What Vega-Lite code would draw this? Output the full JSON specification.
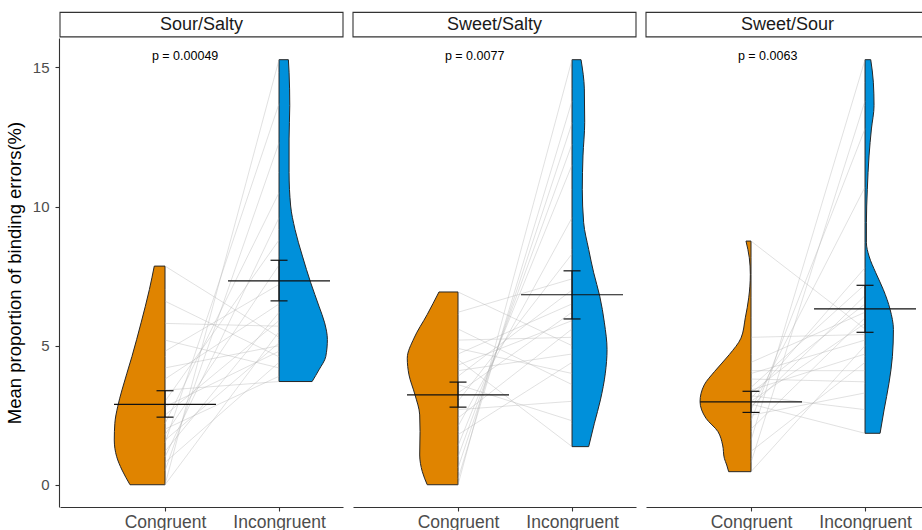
{
  "$schema": "https://vega.github.io/schema/vega-lite/v6.json",
  "padding": {"left": 5, "top": 11, "right": 0, "bottom": 0},
  "background": "white",
  "config": {
    "font": "Liberation Sans",
    "view": {"stroke": null},
    "axis": {"grid": false, "domainColor": "#333333", "domainWidth": 1.1, "tickColor": "#333333", "tickWidth": 1.1, "tickSize": 4, "labelColor": "#4d4d4d", "titleColor": "#000000", "titleFontWeight": "normal"}
  },
  "data": {"values": [
    {"kind": "strip", "pair": "Sour/Salty", "label": "p = 0.00049"},
    {"kind": "strip", "pair": "Sweet/Salty", "label": "p = 0.0077"},
    {"kind": "strip", "pair": "Sweet/Sour", "label": "p = 0.0063"},

    {"kind": "violin", "pair": "Sour/Salty", "cond": "Congruent", "value": 0, "half": 0.307},
    {"kind": "violin", "pair": "Sour/Salty", "cond": "Congruent", "value": 0.53, "half": 0.377},
    {"kind": "violin", "pair": "Sour/Salty", "cond": "Congruent", "value": 1.01, "half": 0.424},
    {"kind": "violin", "pair": "Sour/Salty", "cond": "Congruent", "value": 1.61, "half": 0.445},
    {"kind": "violin", "pair": "Sour/Salty", "cond": "Congruent", "value": 2.21, "half": 0.44},
    {"kind": "violin", "pair": "Sour/Salty", "cond": "Congruent", "value": 2.81, "half": 0.415},
    {"kind": "violin", "pair": "Sour/Salty", "cond": "Congruent", "value": 3.41, "half": 0.377},
    {"kind": "violin", "pair": "Sour/Salty", "cond": "Congruent", "value": 4.61, "half": 0.29},
    {"kind": "violin", "pair": "Sour/Salty", "cond": "Congruent", "value": 5.82, "half": 0.21},
    {"kind": "violin", "pair": "Sour/Salty", "cond": "Congruent", "value": 7.02, "half": 0.137},
    {"kind": "violin", "pair": "Sour/Salty", "cond": "Congruent", "value": 7.86, "half": 0.094},

    {"kind": "violin", "pair": "Sour/Salty", "cond": "Incongruent", "value": 3.71, "half": 0.29},
    {"kind": "violin", "pair": "Sour/Salty", "cond": "Incongruent", "value": 4.13, "half": 0.35},
    {"kind": "violin", "pair": "Sour/Salty", "cond": "Incongruent", "value": 4.61, "half": 0.41},
    {"kind": "violin", "pair": "Sour/Salty", "cond": "Incongruent", "value": 5.22, "half": 0.424},
    {"kind": "violin", "pair": "Sour/Salty", "cond": "Incongruent", "value": 5.82, "half": 0.40},
    {"kind": "violin", "pair": "Sour/Salty", "cond": "Incongruent", "value": 6.42, "half": 0.35},
    {"kind": "violin", "pair": "Sour/Salty", "cond": "Incongruent", "value": 7.26, "half": 0.278},
    {"kind": "violin", "pair": "Sour/Salty", "cond": "Incongruent", "value": 8.22, "half": 0.205},
    {"kind": "violin", "pair": "Sour/Salty", "cond": "Incongruent", "value": 9.18, "half": 0.14},
    {"kind": "violin", "pair": "Sour/Salty", "cond": "Incongruent", "value": 10.02, "half": 0.102},
    {"kind": "violin", "pair": "Sour/Salty", "cond": "Incongruent", "value": 11.22, "half": 0.088},
    {"kind": "violin", "pair": "Sour/Salty", "cond": "Incongruent", "value": 12.43, "half": 0.088},
    {"kind": "violin", "pair": "Sour/Salty", "cond": "Incongruent", "value": 13.63, "half": 0.094},
    {"kind": "violin", "pair": "Sour/Salty", "cond": "Incongruent", "value": 14.83, "half": 0.088},
    {"kind": "violin", "pair": "Sour/Salty", "cond": "Incongruent", "value": 15.28, "half": 0.082},

    {"kind": "violin", "pair": "Sweet/Salty", "cond": "Congruent", "value": 0, "half": 0.27},
    {"kind": "violin", "pair": "Sweet/Salty", "cond": "Congruent", "value": 0.47, "half": 0.313},
    {"kind": "violin", "pair": "Sweet/Salty", "cond": "Congruent", "value": 1.07, "half": 0.336},
    {"kind": "violin", "pair": "Sweet/Salty", "cond": "Congruent", "value": 1.91, "half": 0.333},
    {"kind": "violin", "pair": "Sweet/Salty", "cond": "Congruent", "value": 2.51, "half": 0.336},
    {"kind": "violin", "pair": "Sweet/Salty", "cond": "Congruent", "value": 3.23, "half": 0.377},
    {"kind": "violin", "pair": "Sweet/Salty", "cond": "Congruent", "value": 3.95, "half": 0.43},
    {"kind": "violin", "pair": "Sweet/Salty", "cond": "Congruent", "value": 4.55, "half": 0.445},
    {"kind": "violin", "pair": "Sweet/Salty", "cond": "Congruent", "value": 5.27, "half": 0.386},
    {"kind": "violin", "pair": "Sweet/Salty", "cond": "Congruent", "value": 6.12, "half": 0.27},
    {"kind": "violin", "pair": "Sweet/Salty", "cond": "Congruent", "value": 6.93, "half": 0.167},

    {"kind": "violin", "pair": "Sweet/Salty", "cond": "Incongruent", "value": 1.37, "half": 0.146},
    {"kind": "violin", "pair": "Sweet/Salty", "cond": "Incongruent", "value": 2.21, "half": 0.196},
    {"kind": "violin", "pair": "Sweet/Salty", "cond": "Incongruent", "value": 3.05, "half": 0.249},
    {"kind": "violin", "pair": "Sweet/Salty", "cond": "Incongruent", "value": 4.01, "half": 0.292},
    {"kind": "violin", "pair": "Sweet/Salty", "cond": "Incongruent", "value": 4.86, "half": 0.307},
    {"kind": "violin", "pair": "Sweet/Salty", "cond": "Incongruent", "value": 5.82, "half": 0.284},
    {"kind": "violin", "pair": "Sweet/Salty", "cond": "Incongruent", "value": 6.78, "half": 0.243},
    {"kind": "violin", "pair": "Sweet/Salty", "cond": "Incongruent", "value": 7.62, "half": 0.19},
    {"kind": "violin", "pair": "Sweet/Salty", "cond": "Incongruent", "value": 8.46, "half": 0.146},
    {"kind": "violin", "pair": "Sweet/Salty", "cond": "Incongruent", "value": 9.42, "half": 0.102},
    {"kind": "violin", "pair": "Sweet/Salty", "cond": "Incongruent", "value": 10.62, "half": 0.09},
    {"kind": "violin", "pair": "Sweet/Salty", "cond": "Incongruent", "value": 11.82, "half": 0.096},
    {"kind": "violin", "pair": "Sweet/Salty", "cond": "Incongruent", "value": 13.03, "half": 0.111},
    {"kind": "violin", "pair": "Sweet/Salty", "cond": "Incongruent", "value": 14.23, "half": 0.108},
    {"kind": "violin", "pair": "Sweet/Salty", "cond": "Incongruent", "value": 15.28, "half": 0.079},

    {"kind": "violin", "pair": "Sweet/Sour", "cond": "Congruent", "value": 0.47, "half": 0.196},
    {"kind": "violin", "pair": "Sweet/Sour", "cond": "Congruent", "value": 0.71, "half": 0.213},
    {"kind": "violin", "pair": "Sweet/Sour", "cond": "Congruent", "value": 0.95, "half": 0.234},
    {"kind": "violin", "pair": "Sweet/Sour", "cond": "Congruent", "value": 1.43, "half": 0.249},
    {"kind": "violin", "pair": "Sweet/Sour", "cond": "Congruent", "value": 1.91, "half": 0.29},
    {"kind": "violin", "pair": "Sweet/Sour", "cond": "Congruent", "value": 2.39, "half": 0.395},
    {"kind": "violin", "pair": "Sweet/Sour", "cond": "Congruent", "value": 2.99, "half": 0.447},
    {"kind": "violin", "pair": "Sweet/Sour", "cond": "Congruent", "value": 3.59, "half": 0.41},
    {"kind": "violin", "pair": "Sweet/Sour", "cond": "Congruent", "value": 4.07, "half": 0.32},
    {"kind": "violin", "pair": "Sweet/Sour", "cond": "Congruent", "value": 4.68, "half": 0.19},
    {"kind": "violin", "pair": "Sweet/Sour", "cond": "Congruent", "value": 5.27, "half": 0.088},
    {"kind": "violin", "pair": "Sweet/Sour", "cond": "Congruent", "value": 6.0, "half": 0.05},
    {"kind": "violin", "pair": "Sweet/Sour", "cond": "Congruent", "value": 6.72, "half": 0.02},
    {"kind": "violin", "pair": "Sweet/Sour", "cond": "Congruent", "value": 7.56, "half": 0.006},
    {"kind": "violin", "pair": "Sweet/Sour", "cond": "Congruent", "value": 8.16, "half": 0.015},
    {"kind": "violin", "pair": "Sweet/Sour", "cond": "Congruent", "value": 8.76, "half": 0.044},

    {"kind": "violin", "pair": "Sweet/Sour", "cond": "Incongruent", "value": 1.85, "half": 0.132},
    {"kind": "violin", "pair": "Sweet/Sour", "cond": "Incongruent", "value": 2.69, "half": 0.167},
    {"kind": "violin", "pair": "Sweet/Sour", "cond": "Incongruent", "value": 3.65, "half": 0.21},
    {"kind": "violin", "pair": "Sweet/Sour", "cond": "Incongruent", "value": 4.61, "half": 0.24},
    {"kind": "violin", "pair": "Sweet/Sour", "cond": "Incongruent", "value": 5.58, "half": 0.249},
    {"kind": "violin", "pair": "Sweet/Sour", "cond": "Incongruent", "value": 6.3, "half": 0.22},
    {"kind": "violin", "pair": "Sweet/Sour", "cond": "Incongruent", "value": 7.02, "half": 0.16},
    {"kind": "violin", "pair": "Sweet/Sour", "cond": "Incongruent", "value": 7.62, "half": 0.094},
    {"kind": "violin", "pair": "Sweet/Sour", "cond": "Incongruent", "value": 8.22, "half": 0.035},
    {"kind": "violin", "pair": "Sweet/Sour", "cond": "Incongruent", "value": 8.7, "half": 0.012},
    {"kind": "violin", "pair": "Sweet/Sour", "cond": "Incongruent", "value": 9.42, "half": 0.012},
    {"kind": "violin", "pair": "Sweet/Sour", "cond": "Incongruent", "value": 10.62, "half": 0.02},
    {"kind": "violin", "pair": "Sweet/Sour", "cond": "Incongruent", "value": 11.82, "half": 0.035},
    {"kind": "violin", "pair": "Sweet/Sour", "cond": "Incongruent", "value": 12.79, "half": 0.056},
    {"kind": "violin", "pair": "Sweet/Sour", "cond": "Incongruent", "value": 13.63, "half": 0.079},
    {"kind": "violin", "pair": "Sweet/Sour", "cond": "Incongruent", "value": 14.47, "half": 0.073},
    {"kind": "violin", "pair": "Sweet/Sour", "cond": "Incongruent", "value": 15.28, "half": 0.05},

    {"kind": "summary", "pair": "Sour/Salty", "cond": "Congruent", "mean": 2.89, "lower": 2.43, "upper": 3.38},
    {"kind": "summary", "pair": "Sour/Salty", "cond": "Incongruent", "mean": 7.33, "lower": 6.61, "upper": 8.07},
    {"kind": "summary", "pair": "Sweet/Salty", "cond": "Congruent", "mean": 3.23, "lower": 2.79, "upper": 3.69},
    {"kind": "summary", "pair": "Sweet/Salty", "cond": "Incongruent", "mean": 6.83, "lower": 5.96, "upper": 7.69},
    {"kind": "summary", "pair": "Sweet/Sour", "cond": "Congruent", "mean": 2.98, "lower": 2.60, "upper": 3.36},
    {"kind": "summary", "pair": "Sweet/Sour", "cond": "Incongruent", "mean": 6.32, "lower": 5.48, "upper": 7.17},

    {"kind": "line", "pair": "Sour/Salty", "subject": "a01", "cond": "Congruent", "value": 0},
    {"kind": "line", "pair": "Sour/Salty", "subject": "a01", "cond": "Incongruent", "value": 15.28},
    {"kind": "line", "pair": "Sour/Salty", "subject": "a02", "cond": "Congruent", "value": 0},
    {"kind": "line", "pair": "Sour/Salty", "subject": "a02", "cond": "Incongruent", "value": 5.5},
    {"kind": "line", "pair": "Sour/Salty", "subject": "a03", "cond": "Congruent", "value": 0.5},
    {"kind": "line", "pair": "Sour/Salty", "subject": "a03", "cond": "Incongruent", "value": 12.3},
    {"kind": "line", "pair": "Sour/Salty", "subject": "a04", "cond": "Congruent", "value": 0.8},
    {"kind": "line", "pair": "Sour/Salty", "subject": "a04", "cond": "Incongruent", "value": 4.4},
    {"kind": "line", "pair": "Sour/Salty", "subject": "a05", "cond": "Congruent", "value": 1.0},
    {"kind": "line", "pair": "Sour/Salty", "subject": "a05", "cond": "Incongruent", "value": 9.6},
    {"kind": "line", "pair": "Sour/Salty", "subject": "a06", "cond": "Congruent", "value": 1.2},
    {"kind": "line", "pair": "Sour/Salty", "subject": "a06", "cond": "Incongruent", "value": 6.2},
    {"kind": "line", "pair": "Sour/Salty", "subject": "a07", "cond": "Congruent", "value": 1.5},
    {"kind": "line", "pair": "Sour/Salty", "subject": "a07", "cond": "Incongruent", "value": 13.7},
    {"kind": "line", "pair": "Sour/Salty", "subject": "a08", "cond": "Congruent", "value": 1.6},
    {"kind": "line", "pair": "Sour/Salty", "subject": "a08", "cond": "Incongruent", "value": 5.1},
    {"kind": "line", "pair": "Sour/Salty", "subject": "a09", "cond": "Congruent", "value": 1.8},
    {"kind": "line", "pair": "Sour/Salty", "subject": "a09", "cond": "Incongruent", "value": 7.9},
    {"kind": "line", "pair": "Sour/Salty", "subject": "a10", "cond": "Congruent", "value": 2.0},
    {"kind": "line", "pair": "Sour/Salty", "subject": "a10", "cond": "Incongruent", "value": 3.9},
    {"kind": "line", "pair": "Sour/Salty", "subject": "a11", "cond": "Congruent", "value": 2.2},
    {"kind": "line", "pair": "Sour/Salty", "subject": "a11", "cond": "Incongruent", "value": 10.5},
    {"kind": "line", "pair": "Sour/Salty", "subject": "a12", "cond": "Congruent", "value": 2.5},
    {"kind": "line", "pair": "Sour/Salty", "subject": "a12", "cond": "Incongruent", "value": 5.9},
    {"kind": "line", "pair": "Sour/Salty", "subject": "a13", "cond": "Congruent", "value": 2.8},
    {"kind": "line", "pair": "Sour/Salty", "subject": "a13", "cond": "Incongruent", "value": 4.8},
    {"kind": "line", "pair": "Sour/Salty", "subject": "a14", "cond": "Congruent", "value": 3.0},
    {"kind": "line", "pair": "Sour/Salty", "subject": "a14", "cond": "Incongruent", "value": 8.8},
    {"kind": "line", "pair": "Sour/Salty", "subject": "a15", "cond": "Congruent", "value": 3.4},
    {"kind": "line", "pair": "Sour/Salty", "subject": "a15", "cond": "Incongruent", "value": 3.71},
    {"kind": "line", "pair": "Sour/Salty", "subject": "a16", "cond": "Congruent", "value": 3.8},
    {"kind": "line", "pair": "Sour/Salty", "subject": "a16", "cond": "Incongruent", "value": 6.5},
    {"kind": "line", "pair": "Sour/Salty", "subject": "a17", "cond": "Congruent", "value": 4.2},
    {"kind": "line", "pair": "Sour/Salty", "subject": "a17", "cond": "Incongruent", "value": 5.0},
    {"kind": "line", "pair": "Sour/Salty", "subject": "a18", "cond": "Congruent", "value": 4.8},
    {"kind": "line", "pair": "Sour/Salty", "subject": "a18", "cond": "Incongruent", "value": 7.2},
    {"kind": "line", "pair": "Sour/Salty", "subject": "a19", "cond": "Congruent", "value": 5.2},
    {"kind": "line", "pair": "Sour/Salty", "subject": "a19", "cond": "Incongruent", "value": 4.2},
    {"kind": "line", "pair": "Sour/Salty", "subject": "a20", "cond": "Congruent", "value": 5.8},
    {"kind": "line", "pair": "Sour/Salty", "subject": "a20", "cond": "Incongruent", "value": 5.7},
    {"kind": "line", "pair": "Sour/Salty", "subject": "a21", "cond": "Congruent", "value": 6.6},
    {"kind": "line", "pair": "Sour/Salty", "subject": "a21", "cond": "Incongruent", "value": 4.6},
    {"kind": "line", "pair": "Sour/Salty", "subject": "a22", "cond": "Congruent", "value": 7.86},
    {"kind": "line", "pair": "Sour/Salty", "subject": "a22", "cond": "Incongruent", "value": 5.3},

    {"kind": "line", "pair": "Sweet/Salty", "subject": "b01", "cond": "Congruent", "value": 0},
    {"kind": "line", "pair": "Sweet/Salty", "subject": "b01", "cond": "Incongruent", "value": 15.28},
    {"kind": "line", "pair": "Sweet/Salty", "subject": "b02", "cond": "Congruent", "value": 0.2},
    {"kind": "line", "pair": "Sweet/Salty", "subject": "b02", "cond": "Incongruent", "value": 13.8},
    {"kind": "line", "pair": "Sweet/Salty", "subject": "b03", "cond": "Congruent", "value": 0.6},
    {"kind": "line", "pair": "Sweet/Salty", "subject": "b03", "cond": "Incongruent", "value": 13.0},
    {"kind": "line", "pair": "Sweet/Salty", "subject": "b04", "cond": "Congruent", "value": 1.0},
    {"kind": "line", "pair": "Sweet/Salty", "subject": "b04", "cond": "Incongruent", "value": 12.25},
    {"kind": "line", "pair": "Sweet/Salty", "subject": "b05", "cond": "Congruent", "value": 1.4},
    {"kind": "line", "pair": "Sweet/Salty", "subject": "b05", "cond": "Incongruent", "value": 11.5},
    {"kind": "line", "pair": "Sweet/Salty", "subject": "b06", "cond": "Congruent", "value": 1.8},
    {"kind": "line", "pair": "Sweet/Salty", "subject": "b06", "cond": "Incongruent", "value": 4.4},
    {"kind": "line", "pair": "Sweet/Salty", "subject": "b07", "cond": "Congruent", "value": 2.1},
    {"kind": "line", "pair": "Sweet/Salty", "subject": "b07", "cond": "Incongruent", "value": 9.6},
    {"kind": "line", "pair": "Sweet/Salty", "subject": "b08", "cond": "Congruent", "value": 2.4},
    {"kind": "line", "pair": "Sweet/Salty", "subject": "b08", "cond": "Incongruent", "value": 5.6},
    {"kind": "line", "pair": "Sweet/Salty", "subject": "b09", "cond": "Congruent", "value": 2.7},
    {"kind": "line", "pair": "Sweet/Salty", "subject": "b09", "cond": "Incongruent", "value": 3.0},
    {"kind": "line", "pair": "Sweet/Salty", "subject": "b10", "cond": "Congruent", "value": 3.0},
    {"kind": "line", "pair": "Sweet/Salty", "subject": "b10", "cond": "Incongruent", "value": 8.3},
    {"kind": "line", "pair": "Sweet/Salty", "subject": "b11", "cond": "Congruent", "value": 3.3},
    {"kind": "line", "pair": "Sweet/Salty", "subject": "b11", "cond": "Incongruent", "value": 6.2},
    {"kind": "line", "pair": "Sweet/Salty", "subject": "b12", "cond": "Congruent", "value": 3.6},
    {"kind": "line", "pair": "Sweet/Salty", "subject": "b12", "cond": "Incongruent", "value": 2.3},
    {"kind": "line", "pair": "Sweet/Salty", "subject": "b13", "cond": "Congruent", "value": 3.9},
    {"kind": "line", "pair": "Sweet/Salty", "subject": "b13", "cond": "Incongruent", "value": 7.0},
    {"kind": "line", "pair": "Sweet/Salty", "subject": "b14", "cond": "Congruent", "value": 4.1},
    {"kind": "line", "pair": "Sweet/Salty", "subject": "b14", "cond": "Incongruent", "value": 4.7},
    {"kind": "line", "pair": "Sweet/Salty", "subject": "b15", "cond": "Congruent", "value": 4.3},
    {"kind": "line", "pair": "Sweet/Salty", "subject": "b15", "cond": "Incongruent", "value": 5.9},
    {"kind": "line", "pair": "Sweet/Salty", "subject": "b16", "cond": "Congruent", "value": 4.5},
    {"kind": "line", "pair": "Sweet/Salty", "subject": "b16", "cond": "Incongruent", "value": 1.37},
    {"kind": "line", "pair": "Sweet/Salty", "subject": "b17", "cond": "Congruent", "value": 4.7},
    {"kind": "line", "pair": "Sweet/Salty", "subject": "b17", "cond": "Incongruent", "value": 6.5},
    {"kind": "line", "pair": "Sweet/Salty", "subject": "b18", "cond": "Congruent", "value": 4.9},
    {"kind": "line", "pair": "Sweet/Salty", "subject": "b18", "cond": "Incongruent", "value": 4.0},
    {"kind": "line", "pair": "Sweet/Salty", "subject": "b19", "cond": "Congruent", "value": 5.2},
    {"kind": "line", "pair": "Sweet/Salty", "subject": "b19", "cond": "Incongruent", "value": 5.3},
    {"kind": "line", "pair": "Sweet/Salty", "subject": "b20", "cond": "Congruent", "value": 5.6},
    {"kind": "line", "pair": "Sweet/Salty", "subject": "b20", "cond": "Incongruent", "value": 3.6},
    {"kind": "line", "pair": "Sweet/Salty", "subject": "b21", "cond": "Congruent", "value": 6.2},
    {"kind": "line", "pair": "Sweet/Salty", "subject": "b21", "cond": "Incongruent", "value": 7.4},
    {"kind": "line", "pair": "Sweet/Salty", "subject": "b22", "cond": "Congruent", "value": 6.93},
    {"kind": "line", "pair": "Sweet/Salty", "subject": "b22", "cond": "Incongruent", "value": 5.0},

    {"kind": "line", "pair": "Sweet/Sour", "subject": "c01", "cond": "Congruent", "value": 0.47},
    {"kind": "line", "pair": "Sweet/Sour", "subject": "c01", "cond": "Incongruent", "value": 5.0},
    {"kind": "line", "pair": "Sweet/Sour", "subject": "c02", "cond": "Congruent", "value": 0.8},
    {"kind": "line", "pair": "Sweet/Sour", "subject": "c02", "cond": "Incongruent", "value": 13.8},
    {"kind": "line", "pair": "Sweet/Sour", "subject": "c03", "cond": "Congruent", "value": 1.2},
    {"kind": "line", "pair": "Sweet/Sour", "subject": "c03", "cond": "Incongruent", "value": 4.4},
    {"kind": "line", "pair": "Sweet/Sour", "subject": "c04", "cond": "Congruent", "value": 1.6},
    {"kind": "line", "pair": "Sweet/Sour", "subject": "c04", "cond": "Incongruent", "value": 15.28},
    {"kind": "line", "pair": "Sweet/Sour", "subject": "c05", "cond": "Congruent", "value": 2.0},
    {"kind": "line", "pair": "Sweet/Sour", "subject": "c05", "cond": "Incongruent", "value": 6.0},
    {"kind": "line", "pair": "Sweet/Sour", "subject": "c06", "cond": "Congruent", "value": 2.3},
    {"kind": "line", "pair": "Sweet/Sour", "subject": "c06", "cond": "Incongruent", "value": 12.8},
    {"kind": "line", "pair": "Sweet/Sour", "subject": "c07", "cond": "Congruent", "value": 2.5},
    {"kind": "line", "pair": "Sweet/Sour", "subject": "c07", "cond": "Incongruent", "value": 3.3},
    {"kind": "line", "pair": "Sweet/Sour", "subject": "c08", "cond": "Congruent", "value": 2.7},
    {"kind": "line", "pair": "Sweet/Sour", "subject": "c08", "cond": "Incongruent", "value": 10.7},
    {"kind": "line", "pair": "Sweet/Sour", "subject": "c09", "cond": "Congruent", "value": 2.8},
    {"kind": "line", "pair": "Sweet/Sour", "subject": "c09", "cond": "Incongruent", "value": 6.8},
    {"kind": "line", "pair": "Sweet/Sour", "subject": "c10", "cond": "Congruent", "value": 2.9},
    {"kind": "line", "pair": "Sweet/Sour", "subject": "c10", "cond": "Incongruent", "value": 1.85},
    {"kind": "line", "pair": "Sweet/Sour", "subject": "c11", "cond": "Congruent", "value": 3.0},
    {"kind": "line", "pair": "Sweet/Sour", "subject": "c11", "cond": "Incongruent", "value": 5.8},
    {"kind": "line", "pair": "Sweet/Sour", "subject": "c12", "cond": "Congruent", "value": 3.1},
    {"kind": "line", "pair": "Sweet/Sour", "subject": "c12", "cond": "Incongruent", "value": 7.8},
    {"kind": "line", "pair": "Sweet/Sour", "subject": "c13", "cond": "Congruent", "value": 3.2},
    {"kind": "line", "pair": "Sweet/Sour", "subject": "c13", "cond": "Incongruent", "value": 2.7},
    {"kind": "line", "pair": "Sweet/Sour", "subject": "c14", "cond": "Congruent", "value": 3.3},
    {"kind": "line", "pair": "Sweet/Sour", "subject": "c14", "cond": "Incongruent", "value": 6.5},
    {"kind": "line", "pair": "Sweet/Sour", "subject": "c15", "cond": "Congruent", "value": 3.4},
    {"kind": "line", "pair": "Sweet/Sour", "subject": "c15", "cond": "Incongruent", "value": 4.7},
    {"kind": "line", "pair": "Sweet/Sour", "subject": "c16", "cond": "Congruent", "value": 3.5},
    {"kind": "line", "pair": "Sweet/Sour", "subject": "c16", "cond": "Incongruent", "value": 7.2},
    {"kind": "line", "pair": "Sweet/Sour", "subject": "c17", "cond": "Congruent", "value": 3.8},
    {"kind": "line", "pair": "Sweet/Sour", "subject": "c17", "cond": "Incongruent", "value": 3.7},
    {"kind": "line", "pair": "Sweet/Sour", "subject": "c18", "cond": "Congruent", "value": 4.0},
    {"kind": "line", "pair": "Sweet/Sour", "subject": "c18", "cond": "Incongruent", "value": 5.2},
    {"kind": "line", "pair": "Sweet/Sour", "subject": "c19", "cond": "Congruent", "value": 4.1},
    {"kind": "line", "pair": "Sweet/Sour", "subject": "c19", "cond": "Incongruent", "value": 4.1},
    {"kind": "line", "pair": "Sweet/Sour", "subject": "c20", "cond": "Congruent", "value": 4.4},
    {"kind": "line", "pair": "Sweet/Sour", "subject": "c20", "cond": "Incongruent", "value": 6.2},
    {"kind": "line", "pair": "Sweet/Sour", "subject": "c21", "cond": "Congruent", "value": 5.3},
    {"kind": "line", "pair": "Sweet/Sour", "subject": "c21", "cond": "Incongruent", "value": 5.4},
    {"kind": "line", "pair": "Sweet/Sour", "subject": "c22", "cond": "Congruent", "value": 8.76},
    {"kind": "line", "pair": "Sweet/Sour", "subject": "c22", "cond": "Incongruent", "value": 5.6}
  ]},
  "transform": [
    {"calculate": "datum.cond === 'Congruent' ? 1 : 2", "as": "pos"},
    {"calculate": "datum.cond === 'Congruent' ? 1 - datum.half : 2", "as": "edgeA"},
    {"calculate": "datum.cond === 'Congruent' ? 1 : 2 + datum.half", "as": "edgeB"}
  ],
  "facet": {
    "column": {"field": "pair", "type": "nominal", "sort": ["Sour/Salty", "Sweet/Salty", "Sweet/Sour"], "header": {"title": null, "labels": false}}
  },
  "spacing": 8,
  "spec": {
    "width": 283,
    "height": 469,
    "layer": [
      {
        "transform": [{"filter": "datum.kind === 'strip'"}],
        "mark": {"type": "rect", "fill": "white", "stroke": "#333333", "strokeWidth": 1.1},
        "encoding": {
          "x": {"datum": 0.079, "type": "quantitative", "scale": {"domain": [0.079, 2.561], "nice": false, "zero": false},
            "axis": {"values": [1, 2], "labelExpr": "datum.value == 1 ? 'Congruent' : 'Incongruent'", "title": null, "labelFontSize": 17.5, "labelPadding": 2}},
          "x2": {"datum": 2.561},
          "y": {"datum": 16.1, "type": "quantitative", "scale": {"domain": [-0.8, 16.06], "nice": false, "zero": false},
            "axis": {"values": [0, 5, 10, 15], "title": "Mean proportion of binding errors(%)", "titleFontSize": 18.5, "labelFontSize": 15, "labelPadding": 6, "titlePadding": 8}},
          "y2": {"datum": 16.98}
        }
      },
      {
        "transform": [{"filter": "datum.kind === 'strip'"}],
        "mark": {"type": "text", "fontSize": 18, "color": "#1a1a1a", "baseline": "middle", "align": "center"},
        "encoding": {
          "x": {"datum": 1.32, "type": "quantitative"},
          "y": {"datum": 16.54, "type": "quantitative"},
          "text": {"field": "pair"}
        }
      },
      {
        "transform": [{"filter": "datum.kind === 'strip'"}],
        "mark": {"type": "text", "fontSize": 12.5, "color": "#000000", "baseline": "middle", "align": "left"},
        "encoding": {
          "x": {"datum": 0.885, "type": "quantitative"},
          "y": {"datum": 15.43, "type": "quantitative"},
          "text": {"field": "label"}
        }
      },
      {
        "transform": [{"filter": "datum.kind === 'violin'"}],
        "mark": {"type": "area", "orient": "horizontal", "interpolate": "monotone", "stroke": "#262626", "strokeWidth": 1, "fillOpacity": 1},
        "encoding": {
          "y": {"field": "value", "type": "quantitative"},
          "x": {"field": "edgeA", "type": "quantitative"},
          "x2": {"field": "edgeB"},
          "fill": {"field": "cond", "type": "nominal", "scale": {"domain": ["Congruent", "Incongruent"], "range": ["#E08400", "#0090DA"]}, "legend": null},
          "detail": {"field": "cond"}
        }
      },
      {
        "transform": [{"filter": "datum.kind === 'line'"}],
        "mark": {"type": "line", "color": "#b3b3b3", "strokeWidth": 0.6, "opacity": 0.65},
        "encoding": {
          "x": {"field": "pos", "type": "quantitative"},
          "y": {"field": "value", "type": "quantitative"},
          "detail": {"field": "subject"}
        }
      },
      {
        "transform": [{"filter": "datum.kind === 'summary'"}],
        "mark": {"type": "rule", "color": "#111111", "strokeWidth": 1.2},
        "encoding": {
          "x": {"field": "pos", "type": "quantitative"},
          "y": {"field": "lower", "type": "quantitative"},
          "y2": {"field": "upper"}
        }
      },
      {
        "transform": [{"filter": "datum.kind === 'summary'"}],
        "mark": {"type": "tick", "orient": "horizontal", "size": 17, "thickness": 1.2, "color": "#111111", "opacity": 1},
        "encoding": {
          "x": {"field": "pos", "type": "quantitative"},
          "y": {"field": "lower", "type": "quantitative"}
        }
      },
      {
        "transform": [{"filter": "datum.kind === 'summary'"}],
        "mark": {"type": "tick", "orient": "horizontal", "size": 17, "thickness": 1.2, "color": "#111111", "opacity": 1},
        "encoding": {
          "x": {"field": "pos", "type": "quantitative"},
          "y": {"field": "upper", "type": "quantitative"}
        }
      },
      {
        "transform": [{"filter": "datum.kind === 'summary'"}],
        "mark": {"type": "tick", "orient": "horizontal", "size": 102, "thickness": 1.2, "color": "#111111", "opacity": 1},
        "encoding": {
          "x": {"field": "pos", "type": "quantitative"},
          "y": {"field": "mean", "type": "quantitative"}
        }
      }
    ]
  }
}
